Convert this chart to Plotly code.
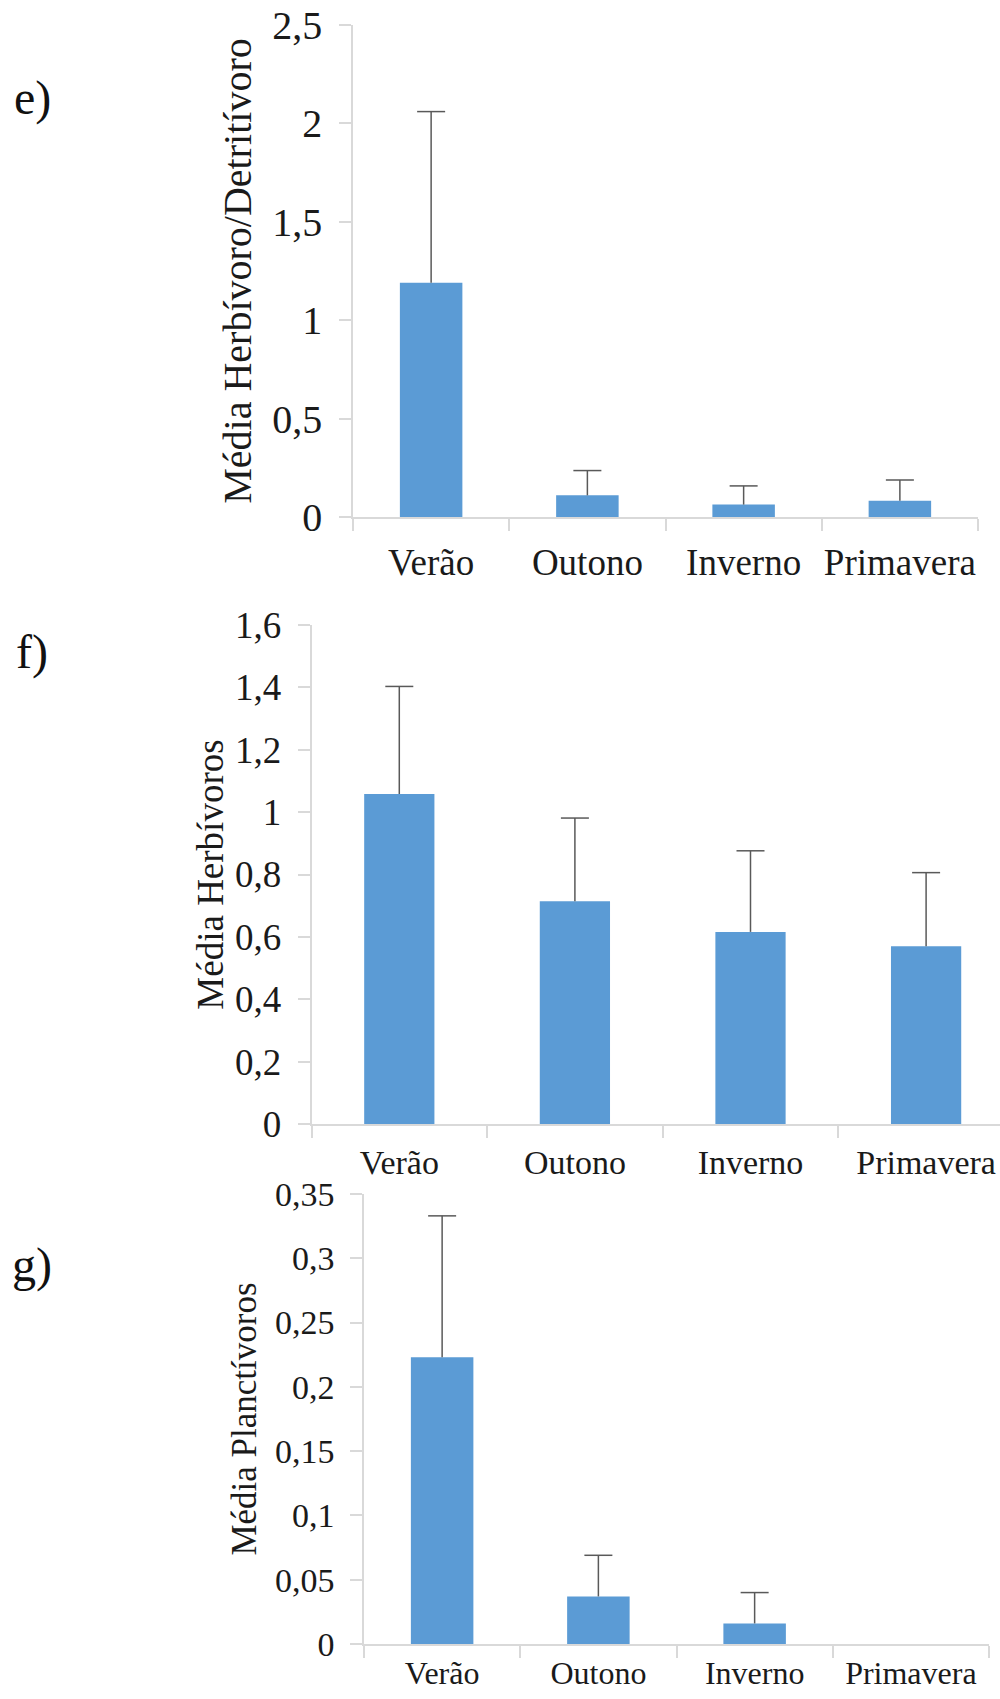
import plotly.graph_objects as go

# ---------------- data ----------------
categories = ["Verão", "Outono", "Inverno", "Primavera"]

# e) Média Herbívoro/Detritívoro
e_mean = [1.19, 0.11, 0.063, 0.083]
e_err = [0.87, 0.126, 0.095, 0.105]
# f) Média Herbívoros
f_mean = [1.058, 0.714, 0.616, 0.570]
f_err = [0.345, 0.267, 0.260, 0.236]
# g) Média Planctívoros
g_mean = [0.223, 0.037, 0.016, 0.0]
g_err = [0.110, 0.032, 0.024, None]

e_ticks = [0, 0.5, 1, 1.5, 2, 2.5]
e_ticktext = ["0", "0,5", "1", "1,5", "2", "2,5"]
f_ticks = [0, 0.2, 0.4, 0.6, 0.8, 1.0, 1.2, 1.4, 1.6]
f_ticktext = ["0", "0,2", "0,4", "0,6", "0,8", "1", "1,2", "1,4", "1,6"]
g_ticks = [0, 0.05, 0.1, 0.15, 0.2, 0.25, 0.3, 0.35]
g_ticktext = ["0", "0,05", "0,1", "0,15", "0,2", "0,25", "0,3", "0,35"]

BAR = "#5B9BD5"
ERR = "#595959"
AX = "#D9D9D9"
FONT = "Liberation Serif"
W, H = 1000, 1699

fig = go.Figure()

panels = [
    dict(mean=e_mean, err=e_err, xa="x", ya="y"),
    dict(mean=f_mean, err=f_err, xa="x2", ya="y2"),
    dict(mean=g_mean, err=g_err, xa="x3", ya="y3"),
]

for p in panels:
    plus = [v if v is not None else 0 for v in p["err"]]
    fig.add_trace(go.Bar(
        x=categories, y=p["mean"], width=0.4,
        marker=dict(color=BAR, line=dict(width=0)),
        error_y=dict(type="data", array=plus, arrayminus=[0] * len(plus),
                     symmetric=False, color=ERR, thickness=1.5, width=0),
        xaxis=p["xa"], yaxis=p["ya"], showlegend=False, hoverinfo="skip",
    ))
    tops = [m + v if v is not None else None for m, v in zip(p["mean"], p["err"])]
    fig.add_trace(go.Scatter(
        x=categories, y=tops, mode="markers",
        marker=dict(symbol="line-ew-open", size=20, color=ERR,
                    line=dict(color=ERR, width=1.5)),
        xaxis=p["xa"], yaxis=p["ya"], showlegend=False, hoverinfo="skip",
        cliponaxis=False,
    ))

def xaxis(domain, rng, size, anchor, standoff):
    return dict(domain=domain, range=rng, type="category", anchor=anchor,
                showline=True, linecolor=AX, linewidth=1.5,
                ticks="outside", tickson="boundaries", ticklen=12,
                tickcolor=AX, tickwidth=1.5, showgrid=False, zeroline=False,
                tickangle=0, automargin=False, ticklabelstandoff=standoff,
                tickfont=dict(family=FONT, size=size, color="#1a1a1a"),
                fixedrange=True)

def yaxis(domain, rng, vals, text, title, tsize, titsize, standoff, anchor):
    return dict(domain=domain, range=rng, anchor=anchor,
                tickvals=vals, ticktext=text,
                showline=True, linecolor=AX, linewidth=1.5,
                ticks="outside", ticklen=12, tickcolor=AX, tickwidth=1.5,
                showgrid=False, zeroline=False, automargin=False,
                tickfont=dict(family=FONT, size=tsize, color="#1a1a1a"),
                title=dict(text=title, font=dict(family=FONT, size=titsize, color="#1a1a1a"),
                           standoff=standoff),
                ticklabelstandoff=9,
                fixedrange=True)

def dom_y(top_px, bot_px):
    return [1 - bot_px / H, 1 - top_px / H]

fig.update_layout(
    width=W, height=H, margin=dict(l=0, r=0, t=0, b=0, autoexpand=False),
    paper_bgcolor="white", plot_bgcolor="white",
    xaxis=xaxis([0.353, 0.978], [-0.5, 3.5], 37, "y", 12),
    yaxis=yaxis(dom_y(25, 517), [0, 2.5], e_ticks, e_ticktext,
                "Média Herbívoro/Detritívoro", 40, 40, 8, "x"),
    xaxis2=xaxis([0.3115, 1.0], [-0.5, -0.5 + 688.5 / 175.6], 34, "y2", 7),
    yaxis2=yaxis(dom_y(625, 1124), [0, 1.6], f_ticks, f_ticktext,
                 "Média Herbívoros", 37, 37, 0, "x2"),
    xaxis3=xaxis([0.364, 0.989], [-0.5, 3.5], 32, "y3", 0),
    yaxis3=yaxis(dom_y(1194, 1644), [0, 0.35], g_ticks, g_ticktext,
                 "Média Planctívoros", 34, 35, 8, "x3"),
)

for lab, ypx in [("e)", 98), ("f)", 652), ("g)", 1265)]:
    fig.add_annotation(text=lab, x=32 / W, y=1 - ypx / H, xref="paper", yref="paper",
                       xanchor="center", yanchor="middle", showarrow=False,
                       font=dict(family=FONT, size=48, color="#111"))

fig.write_html("out.html")
